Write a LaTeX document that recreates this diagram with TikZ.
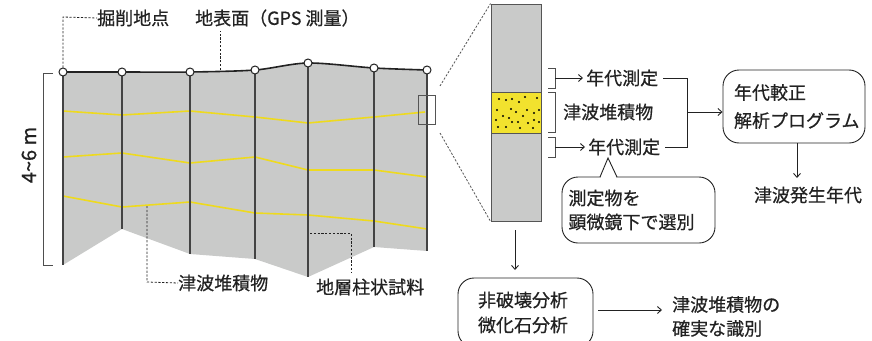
\documentclass[tikz,border=0pt]{standalone}
\usepackage{fontspec}
\setmainfont[FakeBold=0.6]{Noto Sans CJK JP}
\usetikzlibrary{arrows.meta}
\definecolor{soil}{HTML}{C9CAC9}
\definecolor{layer}{HTML}{EEDA1E}
\definecolor{band}{HTML}{F2E22E}
\definecolor{ink}{HTML}{222222}
\definecolor{rim}{HTML}{555555}
\tikzset{
  lbl/.style={inner sep=0pt, text=ink, font=\fontsize{18}{24}\selectfont},
  leader/.style={draw=ink, line width=0.8pt, dash pattern=on 2.2pt off 1.6pt},
  conn/.style={draw=ink, line width=0.9pt},
  arr/.style={conn, -{Straight Barb[length=4pt, width=7pt]}},
  pole/.style={draw=ink!85, line width=1.3pt},
  yline/.style={draw=layer, line width=1.6pt},
  survey/.style={circle, draw=ink, fill=white, line width=1pt, minimum size=8pt, inner sep=0pt},
  roundbox/.style={draw=ink, line width=0.9pt, rounded corners=16pt, fill=white},
  bracketline/.style={draw=ink!80, line width=0.9pt},
}
\begin{document}
\begin{tikzpicture}[x=1pt, y=-1pt]
\useasboundingbox (0,0) rectangle (872,340);
\clip (0,0) rectangle (872,340);

% survey points on the ground surface
\foreach \n/\x/\y in {1/63/72, 2/122/72, 3/190/72, 4/255/70, 5/308/63, 6/374/68, 7/427/70}
  \coordinate (s\n) at (\x,\y);
% bottoms of the cores
\foreach \n/\x/\y in {1/63/265, 2/122/229, 3/190/254, 4/255/259, 5/308/277, 6/374/247, 7/427/251}
  \coordinate (b\n) at (\x,\y);

% cross-section body
\fill[soil] plot[smooth, tension=0.5] coordinates {(s1) (s2) (s3) (s4) (s5) (s6) (s7)}
  -- (b7) -- (b6) -- (b5) -- (b4) -- (b3) -- (b2) -- (b1) -- cycle;

% sand layers
\draw[yline] (63,111) -- (122,115) -- (190,111) -- (255,117) -- (308,123) -- (374,117) -- (425,112);
\draw[yline] (63,157) -- (122,153) -- (190,163) -- (255,157) -- (308,170) -- (374,170) -- (427,177);
\draw[yline] (63,196) -- (122,207) -- (190,202) -- (255,213) -- (308,215) -- (374,221) -- (427,229);

% core poles
\foreach \n in {1,...,7} \draw[pole] (s\n) -- (b\n);

% ground surface
\draw[ink, line width=1.6pt] plot[smooth, tension=0.5] coordinates {(s1) (s2) (s3) (s4) (s5) (s6) (s7)};
\foreach \n in {1,...,7} \node[survey] (p\n) at (s\n) {};

% depth bracket
\draw[bracketline] (53,73) -- (43,73) -- (43,265) -- (53,265);
\node[lbl, rotate=90, font=\fontsize{20}{24}\selectfont] (depth) at (29,155) {4\textasciitilde 6 m};

% callouts on the section
\node[lbl, anchor=west] (site) at (97,18) {掘削地点};
\draw[leader] (p1.north) -- (63,17) -- (site.west);
\node[lbl, anchor=west] (surf) at (195,18) {地表面（GPS 測量）};
\coordinate (surfpt) at (220,70);
\draw[leader] (surfpt) -- (220,31);
\node[lbl, anchor=west] (tsu) at (178,283) {津波堆積物};
\coordinate (tsupt) at (147,206);
\draw[leader] (tsupt) -- (147,282) -- (tsu.west);
\node[lbl, anchor=west] (core) at (316,287) {地層柱状試料};
\coordinate (corept) at (310,233);
\draw[leader] (corept) -- (351,233) -- (351,272);

% enlarged core
\node[draw=rim, line width=0.9pt, minimum width=17pt, minimum height=29pt, inner sep=0pt] (win) at (426.5,109.5) {};
\node[draw=rim, fill=soil, line width=0.9pt, minimum width=50pt, minimum height=217pt, inner sep=0pt] (col) at (516,112.5) {};
\node[draw=rim, fill=band, line width=0.9pt, minimum width=50pt, minimum height=41pt, inner sep=0pt] (sand) at (516,112.5) {};
\foreach \x/\y in {499/99, 506/100, 512/99, 519/102, 525/97, 537/98,
                   497/110, 511/109, 516/112, 527/110, 539/110,
                   503/116, 509/118, 523/116, 534/113,
                   496/120, 512/122, 518/122, 528/123, 534/120, 539/122,
                   498/127, 506/127, 520/128, 533/128}
  \fill[black] (\x,\y) circle (1.2pt);
\draw[leader, rim] (440,86) -- (col.north west);
\draw[leader, rim] (440,133) -- (col.south west);

% sampling brackets and dating
\draw[bracketline] (548,68) -- (555,68) -- (555,88) -- (548,88);
\draw[bracketline] (548,92) -- (555,92) -- (555,132) -- (548,132);
\draw[bracketline] (548,137) -- (555,137) -- (555,157) -- (548,157);
\coordinate (br1) at (555,78);
\coordinate (br3) at (555,147);
\node[lbl, anchor=west] (date1) at (586,78) {年代測定};
\node[lbl, anchor=west] (mid) at (563,112) {津波堆積物};
\node[lbl, anchor=west] (date2) at (588,147) {年代測定};
\draw[arr] (br1) -- ([xshift=-3pt]date1.west);
\draw[arr] (br3) -- ([xshift=-3pt]date2.west);

% calibration
\node[roundbox, minimum width=142pt, minimum height=73pt, text width=120pt, align=left,
      lbl, inner sep=0pt] (calib) at (794,106.5) {年代較正\\[4pt]解析プログラム};
\coordinate (join) at (687,112);
\draw[conn] ([xshift=5pt]date1.east) -- (687,78) -- (687,147) -- ([xshift=5pt]date2.east);
\draw[arr] (join) -- (calib.west |- join);
\node[lbl] (era) at (808,195) {津波発生年代};
\draw[arr] (797,143) -- (797,178);

% microscope note
\node[roundbox, minimum width=153pt, minimum height=66pt, text width=140pt, align=left,
      lbl, inner sep=0pt] (note) at (638.5,210) {測定物を\\顕微鏡下で選別};
\fill[white] (600.5,178.2) -- (608,158) -- (616.5,178.2) -- cycle;
\draw[conn] (600,177) -- (608,158) -- (617,177);

% analysis
\coordinate (colbot) at (515,230);
\node[roundbox, minimum width=135pt, minimum height=69pt, text width=95pt, align=left,
      lbl, inner sep=0pt] (ana) at (525.5,312.5) {非破壊分析\\[1pt]微化石分析};
\draw[arr] (colbot) -- (515,270);
\node[lbl, anchor=west, align=left] (ident) at (672,316.5) {津波堆積物の\\確実な識別};
\draw[arr] (598,310) -- ([xshift=-10pt]ident.west |- 0,310);
\end{tikzpicture}
\end{document}
